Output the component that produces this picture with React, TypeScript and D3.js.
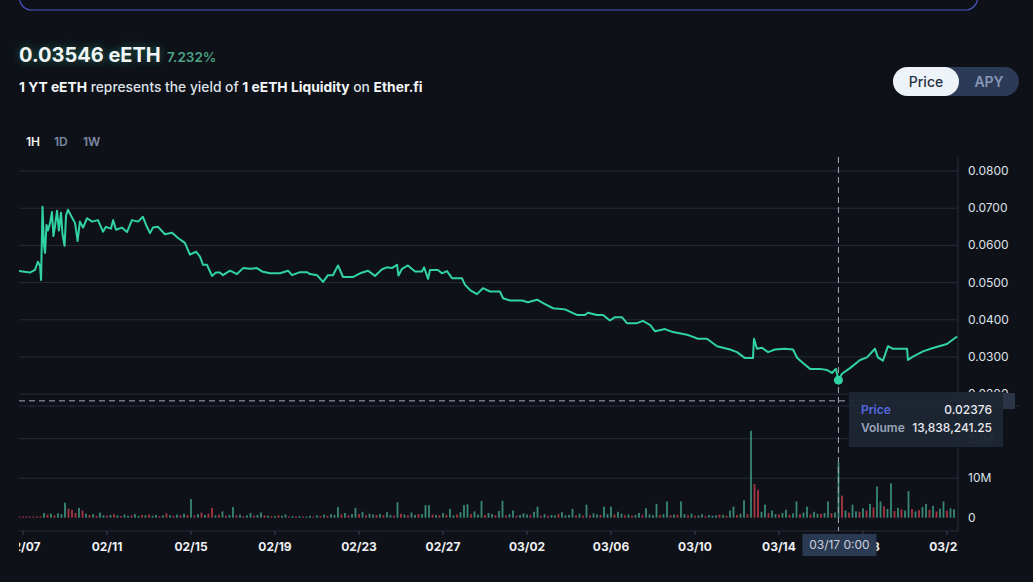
import * as d3 from "d3";

// days after 02/07 00:00, price in eETH
const pricePoints: [number, number][] = [
  [-0.19, 0.0531], [0.33, 0.0527], [0.57, 0.0534], [0.71, 0.0556], [0.81, 0.0545], [0.86, 0.0507],
  [0.93, 0.0704], [1.0, 0.06], [1.05, 0.058], [1.12, 0.0655], [1.19, 0.064], [1.29, 0.066],
  [1.38, 0.069], [1.45, 0.0625], [1.52, 0.065], [1.62, 0.0693], [1.71, 0.064], [1.81, 0.0688],
  [1.88, 0.063], [1.98, 0.0599], [2.05, 0.068], [2.14, 0.0696], [2.29, 0.068], [2.48, 0.066],
  [2.6, 0.0612], [2.71, 0.0664], [2.86, 0.0648], [3.05, 0.0673], [3.29, 0.0664], [3.57, 0.0668],
  [3.81, 0.0637], [3.95, 0.065], [4.19, 0.0645], [4.29, 0.0668], [4.43, 0.0642], [4.71, 0.0648],
  [4.95, 0.0636], [5.19, 0.0668], [5.48, 0.0664], [5.71, 0.0677], [5.9, 0.065], [6.05, 0.0633],
  [6.19, 0.0648], [6.43, 0.065], [6.76, 0.063], [7.1, 0.0634], [7.38, 0.062], [7.71, 0.0607],
  [7.95, 0.0575], [8.24, 0.0583], [8.43, 0.057], [8.57, 0.0548], [8.76, 0.0548], [9.0, 0.0518],
  [9.19, 0.0527], [9.38, 0.0527], [9.52, 0.052], [9.86, 0.0532], [10.19, 0.0523], [10.48, 0.0539],
  [10.81, 0.0537], [11.14, 0.0539], [11.38, 0.053], [11.76, 0.0525], [12.24, 0.0525], [12.62, 0.0532],
  [12.81, 0.052], [13.19, 0.0528], [13.52, 0.0528], [13.67, 0.0523], [14.0, 0.052], [14.29, 0.0502],
  [14.52, 0.052], [14.76, 0.052], [15.0, 0.0546], [15.24, 0.0515], [15.71, 0.0515], [16.05, 0.0525],
  [16.43, 0.0532], [16.76, 0.0518], [17.1, 0.0536], [17.33, 0.0541], [17.57, 0.0539], [17.81, 0.0548],
  [17.88, 0.0519], [18.05, 0.0537], [18.33, 0.0546], [18.67, 0.053], [19.0, 0.053], [19.1, 0.0541],
  [19.29, 0.051], [19.38, 0.0534], [19.76, 0.0534], [19.95, 0.0525], [20.19, 0.0531], [20.43, 0.0512],
  [20.9, 0.0512], [21.05, 0.0494], [21.29, 0.048], [21.62, 0.0469], [21.9, 0.0485], [22.24, 0.0476],
  [22.71, 0.0476], [22.86, 0.0458], [23.19, 0.0452], [23.76, 0.0452], [24.05, 0.0447], [24.48, 0.0454],
  [24.86, 0.0442], [25.24, 0.0431], [25.81, 0.0428], [26.19, 0.0418], [26.38, 0.0413], [26.76, 0.0413],
  [26.9, 0.0419], [27.33, 0.0413], [27.62, 0.0413], [27.95, 0.0398], [28.19, 0.0407], [28.52, 0.0407],
  [28.76, 0.0391], [29.24, 0.0391], [29.52, 0.0397], [29.86, 0.0386], [30.1, 0.0369], [30.57, 0.0375],
  [30.95, 0.0367], [31.62, 0.036], [32.14, 0.0349], [32.57, 0.0349], [33.05, 0.0329], [33.67, 0.032],
  [34.0, 0.0313], [34.38, 0.0297], [34.76, 0.0297], [34.81, 0.0349], [34.95, 0.0322], [35.19, 0.0325],
  [35.48, 0.0313], [35.81, 0.032], [36.29, 0.0322], [36.67, 0.032], [36.86, 0.0298], [37.14, 0.0284],
  [37.48, 0.0268], [37.95, 0.0268], [38.29, 0.0265], [38.52, 0.0257], [38.71, 0.0268], [38.83, 0.02376],
  [39.0, 0.0255], [39.38, 0.027], [39.86, 0.0292], [40.19, 0.0299], [40.57, 0.0322], [40.71, 0.0299],
  [40.95, 0.029], [41.19, 0.0329], [41.43, 0.0322], [42.1, 0.0322], [42.14, 0.0292], [42.38, 0.0301],
  [42.86, 0.0315], [43.33, 0.0324], [44.0, 0.0335], [44.38, 0.0351], [44.48, 0.03546],
];

// 4-hour volume bars in millions, first bar 02/06 20:00; + buy (green), - sell (red)
const volumeRows: number[][] = [
  [-0.1],
  [-0.1, -0.1, -0.1, -0.1, -0.1, -0.2],
  [1.2, -0.8, 1.0, -0.6, 1.1, 0.9],
  [3.8, -2.3, -2.0, -1.2, 2.5, -1.8],
  [1.0, -0.7, 0.9, -0.5, 1.3, 0.6],
  [-0.5, 0.7, -0.9, 0.6, -0.4, 0.8],
  [0.5, -0.6, 0.9, 0.4, -0.7, 0.6],
  [-0.8, 0.5, 0.7, -0.4, 0.6, -1.1],
  [0.6, -0.5, 0.8, -0.6, 1.0, -0.7],
  [4.7, -0.6, 0.9, -1.3, 0.7, -1.0],
  [-2.5, 0.6, -0.8, 1.6, -0.5, 0.7],
  [2.7, -0.6, 0.8, -0.4, 0.6, 1.2],
  [-0.5, 0.7, 1.3, -0.6, 0.5, -0.4],
  [0.4, -0.6, 0.5, 0.8, -0.3, 0.4],
  [-0.3, 0.4, -0.3, 0.3, 0.5, -0.3],
  [0.6, -0.4, 0.8, -0.5, 0.9, 0.7],
  [2.7, -0.8, 1.2, -0.6, 0.9, 2.5],
  [-0.9, 1.5, -0.6, 1.0, 0.8, -0.7],
  [0.9, -0.6, 1.4, 0.7, -0.5, 3.9],
  [-1.0, 0.8, -0.6, 1.3, 0.7, -0.9],
  [0.9, 3.2, 3.2, -0.8, 0.7, -0.6],
  [1.2, -0.7, 2.2, 0.6, -0.8, 1.4],
  [3.2, 3.4, -0.9, 1.6, 0.8, 4.2],
  [-0.7, 1.2, 0.9, -0.6, 1.7, 4.3],
  [-0.6, 0.9, 1.8, -0.5, 0.7, 1.1],
  [0.8, -0.6, 1.5, 2.8, -0.5, 0.9],
  [-0.5, 0.7, 0.6, -0.9, 1.4, 0.6],
  [0.7, 2.2, -0.6, 1.0, -0.5, 3.3],
  [-0.6, 1.1, 0.8, -0.7, 2.8, 0.9],
  [2.8, -0.8, 1.5, 1.0, -0.6, 0.8],
  [-0.5, 0.7, 1.2, -0.6, 2.4, 0.8],
  [0.6, 3.5, -0.7, 0.9, 4.1, -0.6],
  [0.8, -0.7, 4.1, 0.9, -0.6, 1.0],
  [-0.5, 0.6, 0.9, -0.4, 0.7, 0.5],
  [0.6, -0.8, 0.7, -0.5, 1.8, 2.8],
  [-0.7, 1.0, 4.4, -0.9, 22.0, -8.5],
  [-7.0, 1.5, 3.3, -1.2, 1.8, 0.9],
  [-0.8, 1.2, 2.0, -0.7, 1.1, 4.1],
  [-0.9, 1.3, 2.8, -0.8, 1.5, 1.0],
  [-1.0, 1.2, 4.1, -1.1, 1.3, 13.84],
  [-5.6, 1.8, -1.3, 3.3, 1.6, -1.5],
  [2.4, -1.8, 3.5, -2.6, 7.9, 4.1],
  [-2.9, 2.2, 8.7, -1.7, 2.5, -2.1],
  [1.8, 6.7, -2.2, 1.6, -1.9, 2.7],
  [3.5, -2.0, 3.0, -1.6, 2.3, 4.1],
  [-1.8, 2.4, 2.1],
];

const priceTicks = [0.02, 0.03, 0.04, 0.05, 0.06, 0.07, 0.08];
const volumeTicks = [0, 10, 20];
const dateTicks = [
  "2024-02-07", "2024-02-11", "2024-02-15", "2024-02-19", "2024-02-23", "2024-02-27",
  "2024-03-02", "2024-03-06", "2024-03-10", "2024-03-14", "2024-03-18", "2024-03-22",
];
const timeframes = ["1H", "1D", "1W"];

const hover = {
  day: 38.83,
  price: 0.02376,
  volume: 13838241.25,
  cursorPrice: 0.0182,
  label: "03/17 0:00",
};

const origin = new Date(2024, 1, 7);
const atDay = (d: number) => new Date(origin.getTime() + d * 864e5);
const volumeStart = new Date(2024, 1, 6, 20);

const BG = "#0e1118";
const GRID = "#262c38";
const LINE = "#31d3a5";
const FONT = "Inter, 'Noto Sans', sans-serif";

export default function App() {
  const left = 19, right = 958;
  const paneTop = 157, paneSplit = 406, paneBottom = 531;

  const x = d3.scaleTime().domain([atDay(-0.19), atDay(44.524)]).range([left, right]);
  const y = d3.scaleLinear().domain([0.0169, 0.0838]).range([405.7, 156.9]);
  const v = d3.scaleLinear().domain([0, 20]).range([517.7, 438.7]);

  const line = d3
    .line<[number, number]>()
    .x((d) => x(atDay(d[0])))
    .y((d) => y(d[1]));

  const bars = volumeRows.flat().map((val, i) => ({
    t: d3.timeHour.offset(volumeStart, i * 4),
    val,
  }));

  const parse = d3.timeParse("%Y-%m-%d");
  const fmtDate = d3.timeFormat("%m/%d");
  const fmtPrice = d3.format(".4f");

  const hx = x(atDay(hover.day));
  const hy = y(hover.price);
  const cy = y(hover.cursorPrice);

  return (
    <svg
      width={1033}
      height={582}
      style={{ position: "absolute", left: 0, top: 0, background: BG }}
      fontFamily={FONT}
    >
      <defs>
        <clipPath id="pricePane">
          <rect x={left} y={paneTop} width={right - left} height={paneSplit - paneTop} />
        </clipPath>
        <clipPath id="volPane">
          <rect x={left} y={paneSplit} width={right - left} height={paneBottom - paneSplit} />
        </clipPath>
        <clipPath id="xLabels">
          <rect x={left} y={paneBottom} width={right - left} height={50} />
        </clipPath>
        <filter id="glow" x="-20%" y="-50%" width="140%" height="200%">
          <feGaussianBlur stdDeviation="4" />
        </filter>
        <radialGradient id="edge" cx="1" cy="0.8" r="0.16" gradientTransform="translate(0 -0.5) scale(1 1.6) translate(0 0.3)">
          <stop offset="0" stopColor="#1f6a52" stopOpacity="0.28" />
          <stop offset="1" stopColor="#1f6a52" stopOpacity="0" />
        </radialGradient>
      </defs>

      <rect x={0} y={0} width={1033} height={582} fill={BG} />
      <rect x={0} y={0} width={1033} height={582} fill="url(#edge)" />

      {/* header */}
      <rect x={19.5} y={-30} width={958} height={40} rx={12} fill="none" stroke="#4f56c4" strokeWidth={1.2} />

      <text x={19} y={62} fontSize={20} fontWeight={700} fill={LINE} opacity={0.45} filter="url(#glow)">
        0.03546 eETH
      </text>
      <text x={19} y={62} fontSize={20} fontWeight={700} fill="#f3f6f7">
        0.03546 eETH
      </text>
      <text x={167} y={62} fontSize={13.5} fontWeight={600} fill="#4aa386">
        7.232%
      </text>
      <text x={19} y={92} fontSize={13.8} fontWeight={500} fill="#dde1e8">
        <tspan fontWeight={700} fill="#f4f6f8">1 YT eETH</tspan>
        <tspan> represents the yield of </tspan>
        <tspan fontWeight={700} fill="#f4f6f8">1 eETH Liquidity</tspan>
        <tspan> on </tspan>
        <tspan fontWeight={700} fill="#f4f6f8">Ether.fi</tspan>
      </text>

      <rect x={893} y={67} width={126} height={29} rx={14.5} fill="#2b3a57" />
      <rect x={893} y={67} width={66} height={29} rx={14.5} fill="#eef3f9" />
      <text x={926} y={86.5} textAnchor="middle" fontSize={14} fontWeight={500} fill="#243044">
        Price
      </text>
      <text x={989} y={86.5} textAnchor="middle" fontSize={14} fontWeight={600} fill="#8797b5">
        APY
      </text>

      {timeframes.map((tf, i) => (
        <text key={tf} x={[26, 54, 83][i]} y={146} fontSize={12} fontWeight={600} fill={i === 0 ? "#eef0f3" : "#7d8aa3"}>
          {tf}
        </text>
      ))}

      {/* price grid + axis */}
      {priceTicks.map((t) => (
        <g key={t}>
          <line x1={left} x2={right} y1={y(t)} y2={y(t)} stroke={GRID} />
          <text x={968} y={y(t) + 4} fontSize={12} fill="#dfe3ea">
            {fmtPrice(t)}
          </text>
        </g>
      ))}
      {volumeTicks.map((t) => (
        <g key={t}>
          {t > 0 && <line x1={left} x2={right} y1={v(t)} y2={v(t)} stroke={GRID} />}
          <text x={968} y={v(t) + 4} fontSize={12} fill="#dfe3ea">
            {t === 0 ? "0" : `${t}M`}
          </text>
        </g>
      ))}
      <line x1={left} x2={1019} y1={paneSplit} y2={paneSplit} stroke={GRID} />
      <line x1={left} x2={right} y1={paneBottom} y2={paneBottom} stroke={GRID} />
      <line x1={right} x2={right} y1={paneTop} y2={paneBottom} stroke={GRID} />

      {/* x axis */}
      <g clipPath="url(#xLabels)">
        {dateTicks.map((s) => {
          const px = x(parse(s) as Date);
          return (
            <g key={s}>
              <line x1={px} x2={px} y1={paneBottom} y2={paneBottom + 4} stroke="#3a4152" />
              <text x={px} y={550.5} textAnchor="middle" fontSize={12} fontWeight={700} fill="#eef0f3">
                {fmtDate(parse(s) as Date)}
              </text>
            </g>
          );
        })}
      </g>

      {/* volume */}
      <g clipPath="url(#volPane)">
        {bars.map((b, i) => {
          const h = Math.max(1.2, v(0) - v(Math.abs(b.val)));
          return (
            <rect
              key={i}
              x={x(b.t) - 0.9}
              y={v(0) - h}
              width={1.8}
              height={h}
              fill={b.val >= 0 ? "#3f9e86" : "#c23d4b"}
              opacity={0.85}
            />
          );
        })}
      </g>

      {/* price line */}
      <g clipPath="url(#pricePane)">
        <path d={line(pricePoints) ?? ""} fill="none" stroke={LINE} strokeWidth={2} strokeLinejoin="round" />
      </g>

      {/* crosshair */}
      <line x1={hx} x2={hx} y1={paneTop} y2={paneBottom} stroke="#a3abbb" strokeDasharray="6 4" />
      <line x1={left} x2={right} y1={cy} y2={cy} stroke="#a3abbb" strokeDasharray="6 4" />
      <circle cx={hx} cy={hy} r={4.5} fill={LINE} />

      <rect x={959} y={393} width={56} height={16} fill="#2b3548" />

      <rect x={849} y={392} width={154} height={55} fill="#1e2634" opacity={0.97} />
      <text x={861} y={414} fontSize={12} fontWeight={600} fill="#5568e0">
        Price
      </text>
      <text x={992} y={414} textAnchor="end" fontSize={12} fontWeight={500} fill="#e8eaef">
        {d3.format(".5f")(hover.price)}
      </text>
      <text x={861} y={432} fontSize={12} fontWeight={600} fill="#9aa6bb">
        Volume
      </text>
      <text x={992} y={432} textAnchor="end" fontSize={12} fontWeight={500} fill="#e8eaef">
        {d3.format(",.2f")(hover.volume)}
      </text>

      <rect x={hx - 36} y={534} width={74} height={22} fill="#2a3a52" />
      <text x={hx + 1} y={549} textAnchor="middle" fontSize={12} fill="#c9d0dc">
        {hover.label}
      </text>
    </svg>
  );
}
